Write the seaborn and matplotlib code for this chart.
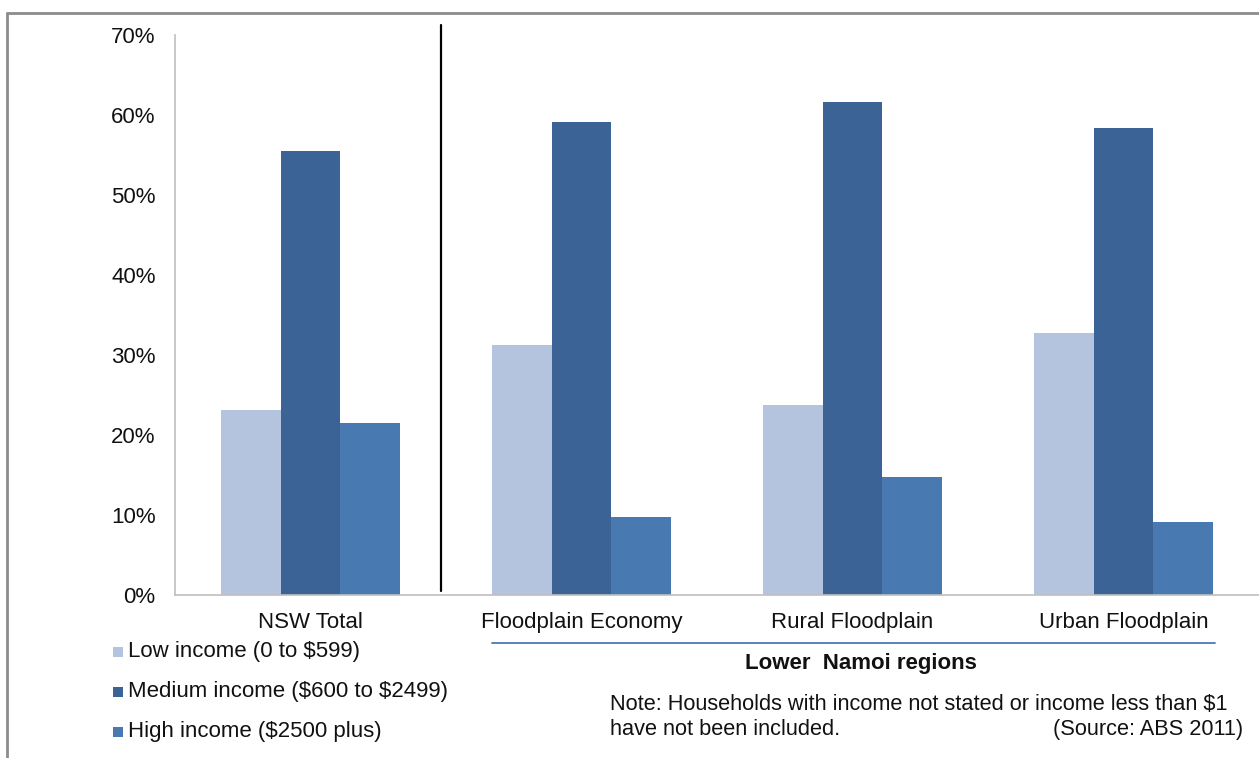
import matplotlib
matplotlib.use("Agg")
import matplotlib.pyplot as plt
import seaborn as sns
import pandas as pd
from matplotlib.patches import Rectangle
from matplotlib.lines import Line2D

categories = ["NSW Total", "Floodplain Economy", "Rural Floodplain", "Urban Floodplain"]
series_names = ["Low income (0 to \\$599)",
                "Medium income (\\$600 to \\$2499)",
                "High income (\\$2500 plus)"]
low_income = [23.1, 31.2, 23.7, 32.7]
medium_income = [55.5, 59.1, 61.6, 58.4]
high_income = [21.5, 9.7, 14.7, 9.1]
y_ticks = [0, 10, 20, 30, 40, 50, 60, 70]

colors = ["#b4c3de", "#3b6395", "#4979b1"]

rows = []
for name, vals in zip(series_names, [low_income, medium_income, high_income]):
    for cat, v in zip(categories, vals):
        rows.append({"Region": cat, "Income": name, "Share": v})
df = pd.DataFrame(rows)

sns.set_theme(style="white")
plt.rcParams["font.family"] = ["Liberation Sans", "DejaVu Sans"]

FS = 16
TXT = "#111111"

fig = plt.figure(figsize=(12.59, 7.58), dpi=100)
ax = fig.add_axes([175 / 1259, 1 - 595 / 758, 1 - 175 / 1259, (595 - 35) / 758])

sns.barplot(data=df, x="Region", y="Share", hue="Income", order=categories,
            hue_order=series_names, palette=colors, width=0.664, gap=0,
            saturation=1, edgecolor="none", linewidth=0, ax=ax, legend=False)

ax.set_xlim(-0.5, 3.5)
ax.set_ylim(0, 70)
ax.set_yticks(y_ticks)
ax.set_yticklabels([f"{t}%" for t in y_ticks], fontsize=FS, color=TXT)
ax.set_xticklabels(categories, fontsize=FS, color=TXT)
ax.set_xlabel("")
ax.set_ylabel("")
ax.tick_params(axis="y", length=0, pad=14)
ax.tick_params(axis="x", length=0, pad=12)

for side in ["top", "right"]:
    ax.spines[side].set_visible(False)
ax.spines["left"].set_color("#bfbfbf")
ax.spines["left"].set_linewidth(1.2)
ax.spines["bottom"].set_color("#bfbfbf")
ax.spines["bottom"].set_linewidth(1.2)

# Divider between the state total and the regional groups
ax.axvline(0.482, ymin=0.007, ymax=1.018, color="black", linewidth=1.6, clip_on=False)

# Bracket line and title under the Lower Namoi regions
fig.add_artist(Line2D([492 / 1259, 1215 / 1259], [1 - 643 / 758, 1 - 643 / 758],
                      color="#4a7ab5", linewidth=1.3))
fig.text(861 / 1259, 1 - 663 / 758, "Lower  Namoi regions", ha="center", va="center",
         fontsize=FS, fontweight="bold", color=TXT)

# Note and source
NFS = 15.7
fig.text(610 / 1259, 1 - 710 / 758,
         "Note: Households with income not stated or income less than \\$1",
         ha="left", va="baseline", fontsize=NFS, color=TXT)
fig.text(610 / 1259, 1 - 735 / 758, "have not been included.",
         ha="left", va="baseline", fontsize=NFS, color=TXT)
fig.text(1243 / 1259, 1 - 735 / 758, "(Source: ABS 2011)",
         ha="right", va="baseline", fontsize=NFS, color=TXT)

# Legend drawn as swatches with labels
legend_y = [652, 692, 732]
for name, col, yy in zip(series_names, colors, legend_y):
    fig.add_artist(Rectangle((113 / 1259, 1 - (yy + 5) / 758), 10 / 1259, 10 / 758,
                             facecolor=col, edgecolor="none", transform=fig.transFigure))
    fig.text(128 / 1259, 1 - yy / 758, name, ha="left", va="center",
             fontsize=FS, color=TXT)

# Outer frame
frame_col = "#8c8c8c"
fig.add_artist(Line2D([7 / 1259, 1.0], [1 - 13 / 758, 1 - 13 / 758], color=frame_col, linewidth=2))
fig.add_artist(Line2D([7 / 1259, 7 / 1259], [1 - 13 / 758, 0.0], color=frame_col, linewidth=2))

fig.savefig("out.png", dpi=100)
